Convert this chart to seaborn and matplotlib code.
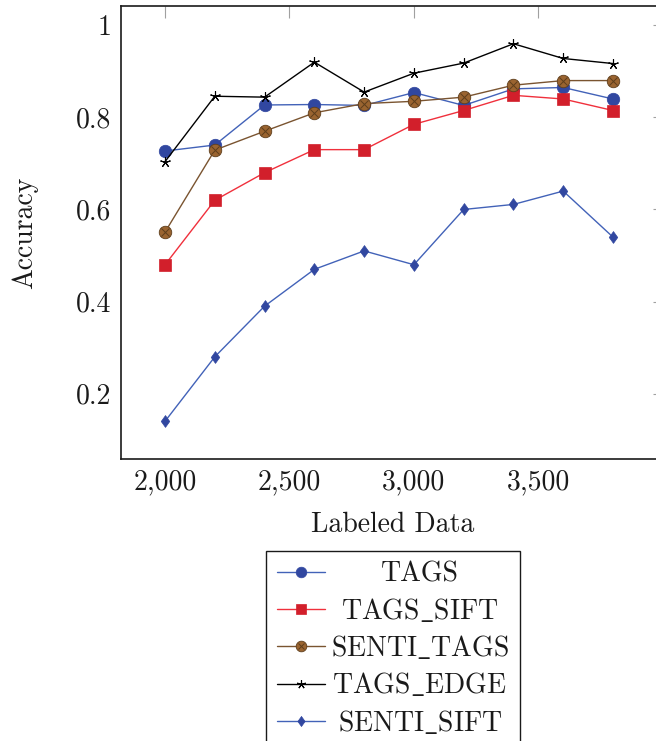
import matplotlib
matplotlib.use("Agg")
import matplotlib.pyplot as plt
import seaborn as sns
from matplotlib.ticker import FuncFormatter, FixedLocator
from matplotlib.legend_handler import HandlerTuple

labeled = [2000, 2200, 2400, 2600, 2800, 3000, 3200, 3400, 3600, 3800]
tags = [0.727, 0.740, 0.827, 0.828, 0.826, 0.854, 0.826, 0.862, 0.865, 0.840]
tags_sift = [0.48, 0.62, 0.68, 0.73, 0.73, 0.785, 0.815, 0.848, 0.840, 0.815]
senti_tags = [0.551, 0.729, 0.770, 0.810, 0.830, 0.835, 0.844, 0.870, 0.880, 0.880]
tags_edge = [0.704, 0.846, 0.844, 0.920, 0.855, 0.896, 0.918, 0.960, 0.928, 0.917]
senti_sift = [0.14, 0.28, 0.39, 0.47, 0.51, 0.48, 0.60, 0.611, 0.64, 0.54]
series_names = ["TAGS", "TAGS_SIFT", "SENTI_TAGS", "TAGS_EDGE", "SENTI_SIFT"]
x_ticks = [2000, 2500, 3000, 3500]
y_ticks = [0.2, 0.4, 0.6, 0.8, 1.0]

sns.set_theme(style="white")
plt.rcParams["font.family"] = ["cmr10", "DejaVu Serif"]
plt.rcParams["mathtext.fontset"] = "cm"
plt.rcParams["axes.formatter.use_mathtext"] = True
FS = 20

W, H = 656, 741
fig = plt.figure(figsize=(W / 100, H / 100), dpi=100)
ax = fig.add_axes([121 / W, 1 - 459 / H, (665 - 121) / W, (459 - 6) / H])

blue_line = "#4262b8"
blue_fill = "#3147a0"
red_line = "#f0303c"
red_fill = "#d21f2b"
brown_line = "#7a5430"
brown_fill = "#9a6430"
brown_x = "#5e3e1c"
diamond = [(0, 1), (0.72, 0), (0, -1), (-0.72, 0), (0, 1)]

h1 = sns.lineplot(x=labeled, y=tags, ax=ax, color=blue_line, linewidth=1.0,
                  marker="o", markersize=9, markerfacecolor=blue_fill,
                  markeredgecolor=blue_fill, markeredgewidth=0.5).lines[-1]
h2 = sns.lineplot(x=labeled, y=tags_sift, ax=ax, color=red_line, linewidth=1.0,
                  marker="s", markersize=8, markerfacecolor=red_fill,
                  markeredgecolor=red_fill, markeredgewidth=0.5).lines[-1]
h3 = sns.lineplot(x=labeled, y=senti_tags, ax=ax, color=brown_line, linewidth=1.0,
                  marker="o", markersize=9, markerfacecolor=brown_fill,
                  markeredgecolor=brown_x, markeredgewidth=0.6).lines[-1]
h3x = sns.lineplot(x=labeled, y=senti_tags, ax=ax, color=brown_x, linewidth=0,
                   linestyle="", marker="x", markersize=5.5,
                   markeredgecolor=brown_x, markeredgewidth=0.7).lines[-1]
h4 = sns.lineplot(x=labeled, y=tags_edge, ax=ax, color="black", linewidth=1.0,
                  marker=(5, 2, 0), markersize=7.5, markeredgecolor="black",
                  markeredgewidth=0.8).lines[-1]
h5 = sns.lineplot(x=labeled, y=senti_sift, ax=ax, color=blue_line, linewidth=1.0,
                  marker=diamond, markersize=8.5, markerfacecolor=blue_fill,
                  markeredgecolor=blue_fill, markeredgewidth=0.5).lines[-1]

ax.set_xlim(1823, 4009)
ax.set_ylim(0.058, 1.042)
ax.xaxis.set_major_locator(FixedLocator(x_ticks))
ax.yaxis.set_major_locator(FixedLocator(y_ticks))
ax.xaxis.set_major_formatter(FuncFormatter(lambda v, p: f"{int(v):,}"))
ax.yaxis.set_major_formatter(FuncFormatter(lambda v, p: "1" if abs(v - 1) < 1e-9 else f"{v:.1f}"))
ax.tick_params(direction="in", top=True, right=True, length=8.5, width=0.8,
               color="#a0a0a0", labelsize=FS, pad=7, labelcolor="#1a1a1a")
for s in ax.spines.values():
    s.set_color("#1a1a1a")
    s.set_linewidth(1.2)
ax.grid(False)
ax.set_xlabel("Labeled Data", fontsize=FS, color="#1a1a1a", labelpad=12)
ax.set_ylabel("Accuracy", fontsize=FS, color="#1a1a1a", labelpad=27)

labels = [n.replace("_", r"$\_$") for n in series_names]
handles = [h1, h2, (h3, h3x), h4, h5]
leg = ax.legend(handles, labels, loc="upper left",
                bbox_to_anchor=(266 / W, 1 - 551 / H), bbox_transform=fig.transFigure,
                borderaxespad=0, frameon=True, fancybox=False, edgecolor="#1a1a1a",
                framealpha=1, fontsize=FS, handlelength=1.75, handletextpad=0.2,
                borderpad=0.38, labelspacing=0.33, markerscale=0.85,
                handler_map={tuple: HandlerTuple(ndivide=1)})
leg.get_frame().set_linewidth(1.0)

fig.canvas.draw()
r = fig.canvas.get_renderer()
texts = leg.get_texts()
widths = [t.get_window_extent(r).width for t in texts]
mw = max(widths)
for t, w in zip(texts, widths):
    t.set_position(((mw - w) / 2, 0))
    t.set_color("#1a1a1a")

fig.savefig("out.png", dpi=100)
